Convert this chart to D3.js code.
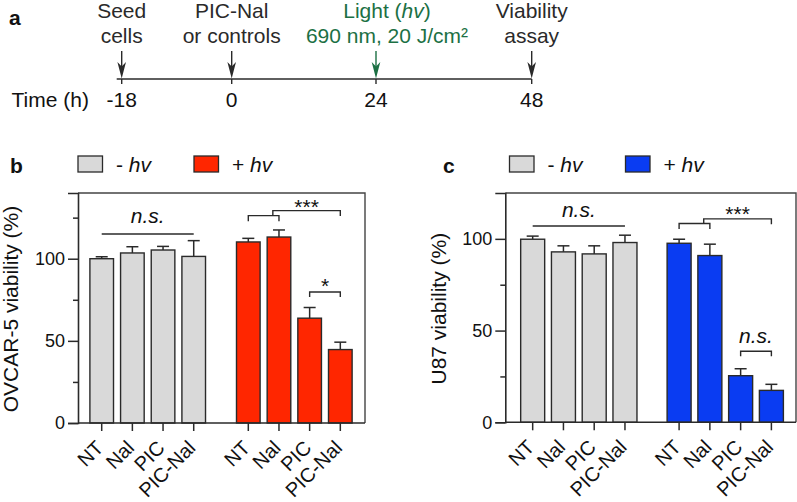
<!DOCTYPE html>
<html><head><meta charset="utf-8">
<script src="https://cdn.jsdelivr.net/npm/d3@7"></script>
<style>
body{margin:0;background:#fff}
svg{display:block}
text{font-family:"Liberation Sans",Arial,Helvetica,sans-serif;fill:#111}
</style>
</head><body>
<svg id="fig" width="797" height="502"></svg>
<script>
// ---------- Panel a: timeline ----------
const timePoints = [-18, 0, 24, 48];
const timeTickLabels = ["-18", "0", "24", "48"];
const eventLine1 = ["Seed", "PIC-Nal", "Light (hv)", "Viability"];
const eventLine2 = ["cells", "or controls", "690 nm, 20 J/cm²", "assay"];
const eventIsLight = [false, false, true, false];

// ---------- Panels b & c: bar charts ----------
const categories = ["NT", "Nal", "PIC", "PIC-Nal"];
const legendLabels = ["- hv", "+ hv"];

const ovcarDark = [100, 103.5, 105.3, 101.4];
const ovcarDarkErr = [1.2, 3.8, 2.2, 9.6];
const ovcarLight = [110.2, 113.2, 63.8, 44.7];
const ovcarLightErr = [2.2, 4.3, 6.5, 4.5];

const u87Dark = [99.8, 92.9, 91.8, 98.0];
const u87DarkErr = [1.7, 3.3, 4.4, 4.0];
const u87Light = [97.6, 90.9, 25.4, 17.4];
const u87LightErr = [2.2, 6.2, 3.8, 3.3];

const ovcarTicks = [0, 50, 100];
const ovcarMinorTicks = [25, 75, 125];
const u87Ticks = [0, 50, 100];
const u87MinorTicks = [25, 75];

// significance annotations (bar indices 0-7, values in % viability)
const ovcarSig = [
  {kind: "line", from: 0, to: 3, y: 115, label: "n.s.", labelY: 121.6, italic: true},
  {kind: "nested", from: 4, to: 5, y: 126.2, stem: 4.8, end: 7, yTop: 129.3, label: "***", labelY: 127.3},
  {kind: "bracket", from: 6, to: 7, y: 79.7, label: "*", labelY: 78.9, italic: false}
];
const u87Sig = [
  {kind: "line", from: 0, to: 3, y: 107, label: "n.s.", labelY: 112, italic: true},
  {kind: "nested", from: 4, to: 5, y: 108.4, stem: 4.8, end: 7, yTop: 110.9, label: "***", labelY: 109.5},
  {kind: "bracket", from: 6, to: 7, y: 38.7, label: "n.s.", labelY: 43.3, italic: true}
];

const GRAY = "#d9d9d9", RED = "#ff2600", BLUE = "#0a3cf2", GREEN = "#1c7044", INK = "#2a2a2a";

const svg = d3.select("#fig");

// ================= Panel a =================
(function () {
  const g = svg.append("g");
  const x = d3.scaleLinear().domain(timePoints).range([121.7, 231.7, 376, 531.7]);
  const lineY = 79;
  g.append("text").attr("x", 9).attr("y", 25).attr("font-size", 21).attr("font-weight", "bold").text("a");
  g.append("line").attr("x1", x(-18) - 5).attr("x2", x(48)).attr("y1", lineY).attr("y2", lineY)
    .attr("stroke", INK).attr("stroke-width", 1.6);
  g.append("text").attr("x", 11.5).attr("y", 106.5).attr("font-size", 21).text("Time (h)");
  timePoints.forEach((t, i) => {
    const cx = x(t);
    const col = eventIsLight[i] ? GREEN : INK;
    g.append("line").attr("x1", cx).attr("x2", cx).attr("y1", lineY).attr("y2", lineY + 5)
      .attr("stroke", INK).attr("stroke-width", 1.4);
    g.append("line").attr("x1", cx).attr("x2", cx).attr("y1", 51).attr("y2", lineY - 8)
      .attr("stroke", col).attr("stroke-width", 1.4);
    g.append("path")
      .attr("d", `M${cx},${lineY - 0.5} L${cx - 4.3},${lineY - 17} L${cx},${lineY - 12.5} L${cx + 4.3},${lineY - 17} Z`)
      .attr("fill", col);
    g.append("text").attr("x", cx).attr("y", 106.5).attr("font-size", 21).attr("text-anchor", "middle")
      .text(timeTickLabels[i]);
    const lx = cx + (eventIsLight[i] ? 11 : 0);
    const t1 = g.append("text").attr("x", lx).attr("y", 17.5).attr("font-size", 21)
      .attr("text-anchor", "middle").style("fill", col);
    if (eventIsLight[i]) {
      const m = eventLine1[i].match(/^(.*\()(hv)(\).*)$/);
      t1.append("tspan").text(m[1]);
      t1.append("tspan").attr("font-style", "italic").text(m[2]);
      t1.append("tspan").text(m[3]);
    } else t1.text(eventLine1[i]);
    g.append("text").attr("x", lx).attr("y", 43).attr("font-size", 21)
      .attr("text-anchor", "middle").style("fill", col).text(eventLine2[i]);
  });
})();

// ================= Panels b, c =================
function drawPanel(cfg) {
  const g = svg.append("g");
  const pos = i => i + (i >= categories.length ? cfg.gap : 0);
  const x = d3.scaleLinear().domain(cfg.xDomain).range([cfg.left, cfg.right]);
  const X = i => x(pos(i));
  const y = d3.scaleLinear().domain([0, cfg.yMax]).range([cfg.bottom, cfg.top]);
  const bw = x(cfg.barWidth) - x(0);

  g.append("text").attr("x", cfg.letterX).attr("y", 173).attr("font-size", 21)
    .attr("font-weight", "bold").text(cfg.letter);

  // legend
  const legendColors = [GRAY, cfg.color];
  legendLabels.forEach((lab, i) => {
    const lx = cfg.legendX[i];
    g.append("rect").attr("x", lx).attr("y", 156).attr("width", 24.5).attr("height", 16)
      .attr("fill", legendColors[i]).attr("stroke", INK).attr("stroke-width", 1.3);
    const t = g.append("text").attr("x", lx + 38).attr("y", 171.5).attr("font-size", 21);
    const parts = lab.split(" ");
    t.append("tspan").text(parts[0] + " ");
    t.append("tspan").attr("font-style", "italic").text(parts[1]);
  });

  // frame (top & right)
  g.append("path").attr("d", `M${cfg.left},${cfg.top} H${cfg.right} V${cfg.bottom}`)
    .attr("fill", "none").attr("stroke", "#444").attr("stroke-width", 1.4);

  // y axis
  const yAxis = d3.axisLeft(y).tickValues(cfg.ticks).tickSize(10).tickPadding(3).tickFormat(d3.format("d"));
  const ya = g.append("g").attr("transform", `translate(${cfg.left},0)`).call(yAxis);
  ya.select(".domain").attr("stroke", INK).attr("stroke-width", 1.6);
  ya.selectAll(".tick line").attr("stroke", INK).attr("stroke-width", 1.5);
  ya.selectAll(".tick text").attr("font-size", 18).attr("font-family", "Liberation Sans, Arial, sans-serif").style("fill", "#111");
  const yMinor = d3.axisLeft(y).tickValues(cfg.minor).tickSize(5).tickFormat("");
  const ym = g.append("g").attr("transform", `translate(${cfg.left},0)`).call(yMinor);
  ym.select(".domain").remove();
  ym.selectAll(".tick line").attr("stroke", INK).attr("stroke-width", 1.5);

  g.append("text").attr("transform", `translate(${cfg.ylabelX},${(cfg.top + cfg.bottom) / 2 + 1}) rotate(-90)`)
    .attr("text-anchor", "middle").attr("font-size", 21).text(cfg.ylabel);

  // bars
  const all = [];
  cfg.dark.forEach((v, i) => all.push({v, e: cfg.darkErr[i], fill: GRAY, idx: i, cat: categories[i]}));
  cfg.light.forEach((v, i) => all.push({v, e: cfg.lightErr[i], fill: cfg.color, idx: i + categories.length, cat: categories[i]}));

  all.forEach(d => {
    const cx = X(d.idx);
    g.append("line").attr("x1", cx).attr("x2", cx).attr("y1", y(d.v)).attr("y2", y(d.v + d.e))
      .attr("stroke", INK).attr("stroke-width", 1.5);
    g.append("line").attr("x1", cx - 6).attr("x2", cx + 6).attr("y1", y(d.v + d.e)).attr("y2", y(d.v + d.e))
      .attr("stroke", INK).attr("stroke-width", 1.5);
  });
  g.selectAll("rect.bar").data(all).join("rect").attr("class", "bar")
    .attr("x", d => X(d.idx) - bw / 2).attr("width", bw)
    .attr("y", d => y(d.v)).attr("height", d => y(0) - y(d.v))
    .attr("fill", d => d.fill).attr("stroke", INK).attr("stroke-width", 1.4);

  // x axis
  g.append("line").attr("x1", cfg.left).attr("x2", cfg.right).attr("y1", y(0)).attr("y2", y(0))
    .attr("stroke", INK).attr("stroke-width", 1.6);
  all.forEach(d => {
    const cx = X(d.idx);
    g.append("line").attr("x1", cx).attr("x2", cx).attr("y1", y(0)).attr("y2", y(0) + 8)
      .attr("stroke", INK).attr("stroke-width", 1.5);
    g.append("text").attr("transform", `translate(${cx + 3},${y(0) + 26}) rotate(-45)`)
      .attr("text-anchor", "end").attr("font-size", 20).text(d.cat);
  });

  // significance
  const path = (d) => g.append("path").attr("d", d).attr("stroke", INK).attr("stroke-width", 1.4).attr("fill", "none");
  cfg.sig.forEach(s => {
    if (s.kind === "line") {
      path(`M${X(s.from)},${y(s.y)} H${X(s.to)}`);
      g.append("text").attr("x", (X(s.from) + X(s.to)) / 2).attr("y", y(s.labelY)).attr("text-anchor", "middle")
        .attr("font-size", 21).attr("font-style", s.italic ? "italic" : "normal").text(s.label);
    } else if (s.kind === "bracket") {
      path(`M${X(s.from)},${y(s.y) + 5} V${y(s.y)} H${X(s.to)} V${y(s.y) + 5}`);
      g.append("text").attr("x", (X(s.from) + X(s.to)) / 2).attr("y", y(s.labelY)).attr("text-anchor", "middle")
        .attr("font-size", 21).attr("font-style", s.italic ? "italic" : "normal").text(s.label);
    } else {
      path(`M${X(s.from)},${y(s.y) + 5.5} V${y(s.y)} H${X(s.to)} V${y(s.y) + 5.5}`);
      path(`M${X(s.stem)},${y(s.y)} V${y(s.yTop)} H${X(s.end)} V${y(s.yTop) + 5.5}`);
      g.append("text").attr("x", (X(s.stem) + X(s.end)) / 2).attr("y", y(s.labelY)).attr("text-anchor", "middle")
        .attr("font-size", 21).text(s.label);
    }
  });
}

drawPanel({
  letter: "b", letterX: 10, legendX: [78, 194], color: RED,
  left: 78, right: 365, top: 193, bottom: 423, yMax: 140,
  xDomain: [-0.773, 8.585], gap: 0.78, barWidth: 0.77,
  ticks: ovcarTicks, minor: ovcarMinorTicks,
  ylabel: "OVCAR-5 viability (%)", ylabelX: 17.5,
  dark: ovcarDark, darkErr: ovcarDarkErr, light: ovcarLight, lightErr: ovcarLightErr,
  sig: ovcarSig
});
drawPanel({
  letter: "c", letterX: 443, legendX: [509.5, 625.5], color: BLUE,
  left: 505.3, right: 796, top: 193, bottom: 422.3, yMax: 125,
  xDomain: [-0.89, 8.56], gap: 0.76, barWidth: 0.78,
  ticks: u87Ticks, minor: u87MinorTicks,
  ylabel: "U87 viability (%)", ylabelX: 446,
  dark: u87Dark, darkErr: u87DarkErr, light: u87Light, lightErr: u87LightErr,
  sig: u87Sig
});
</script>
</body></html>
